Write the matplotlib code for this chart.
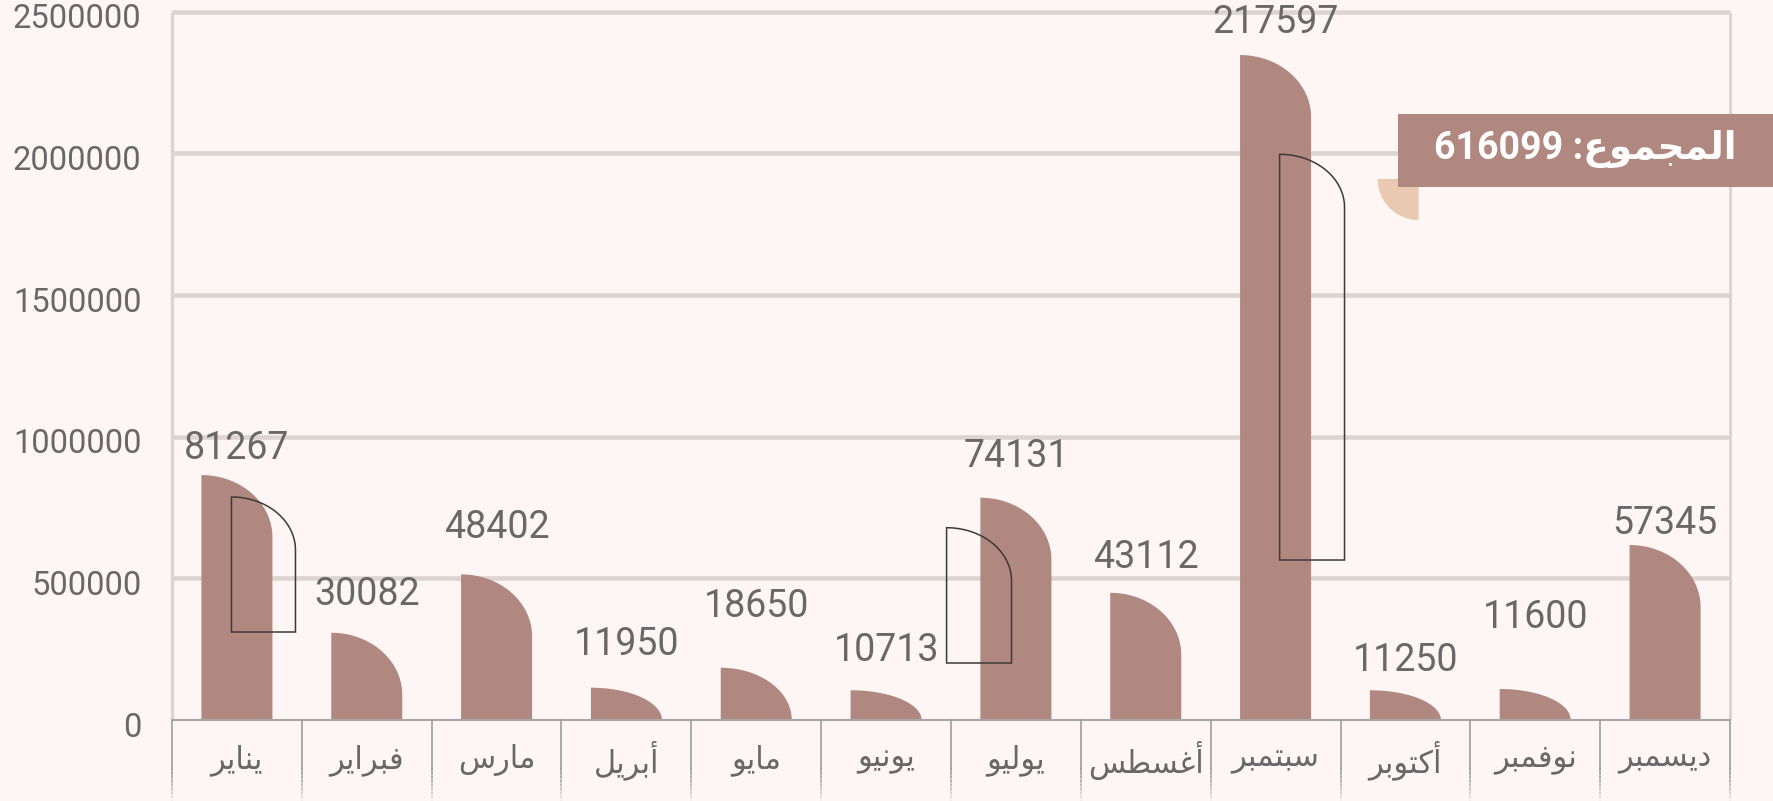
import numpy as np
import matplotlib.pyplot as plt
import matplotlib.transforms as mtransforms
from matplotlib.patches import Polygon, Rectangle, Wedge

plt.rcParams['font.family'] = ['Roboto', 'DejaVu Sans']

# البيانات
months = ["يناير", "فبراير", "مارس", "أبريل", "مايو", "يونيو",
          "يوليو", "أغسطس", "سبتمبر", "أكتوبر", "نوفمبر", "ديسمبر"]
bar_values = [864500, 308000, 514000, 114000, 184500, 105000,
              784500, 449000, 2347000, 105000, 109500, 617500]
label_values = [81267, 30082, 48402, 11950, 18650, 10713,
                74131, 43112, 217597, 11250, 11600, 57345]
y_ticks = [0, 500000, 1000000, 1500000, 2000000, 2500000]
total_label = "المجموع"

# styles
BG = '#FDF6F4'
BAR = '#B1887F'
BEIGE = '#E9CAB0'
GRID = '#DDD4D2'
TXT = '#686868'
BAR_W = 0.547
RY_PX = 62
label_gap_px = [16, 28, 36, 33, 51, 29, 31, 25, 22, 19, 61, 11]
# decorative outlines: (month index, left offset, width, bottom, top)
outlines = [(0, -0.042, 0.493, 310600, 787100),
            (6, -0.534, 0.50, 201200, 678700),
            (8, 0.031, 0.50, 564700, 1996700)]

# simple arabic shaping (presentation forms B)
FORMS = {
    'ا': ('\uFE8D', '\uFE8E', None, None),
    'أ': ('\uFE83', '\uFE84', None, None),
    'د': ('\uFEA9', '\uFEAA', None, None),
    'ر': ('\uFEAD', '\uFEAE', None, None),
    'و': ('\uFEED', '\uFEEE', None, None),
    'ب': ('\uFE8F', '\uFE90', '\uFE91', '\uFE92'),
    'ت': ('\uFE95', '\uFE96', '\uFE97', '\uFE98'),
    'ج': ('\uFE9D', '\uFE9E', '\uFE9F', '\uFEA0'),
    'س': ('\uFEB1', '\uFEB2', '\uFEB3', '\uFEB4'),
    'ط': ('\uFEC1', '\uFEC2', '\uFEC3', '\uFEC4'),
    'ع': ('\uFEC9', '\uFECA', '\uFECB', '\uFECC'),
    'غ': ('\uFECD', '\uFECE', '\uFECF', '\uFED0'),
    'ف': ('\uFED1', '\uFED2', '\uFED3', '\uFED4'),
    'ك': ('\uFED9', '\uFEDA', '\uFEDB', '\uFEDC'),
    'ل': ('\uFEDD', '\uFEDE', '\uFEDF', '\uFEE0'),
    'م': ('\uFEE1', '\uFEE2', '\uFEE3', '\uFEE4'),
    'ن': ('\uFEE5', '\uFEE6', '\uFEE7', '\uFEE8'),
    'ي': ('\uFEF1', '\uFEF2', '\uFEF3', '\uFEF4'),
}


def shape_ar(word):
    out = []
    for i, ch in enumerate(word):
        iso, fin, ini, med = FORMS[ch]
        joins_prev = i > 0 and FORMS[word[i - 1]][2] is not None
        joins_next = i < len(word) - 1 and ini is not None
        if joins_prev and joins_next:
            out.append(med)
        elif joins_prev:
            out.append(fin)
        elif joins_next:
            out.append(ini)
        else:
            out.append(iso)
    return ''.join(reversed(out))


def round_bar(x0, w, y0, y1, ry):
    # rectangle with elliptic top-right corner
    ry = min(ry, y1 - y0)
    t = np.linspace(0, np.pi / 2, 40)
    arc_x = x0 + w * np.cos(t)
    arc_y = (y1 - ry) + ry * np.sin(t)
    xs = np.concatenate([[x0, x0 + w], arc_x])
    ys = np.concatenate([[y0, y0], arc_y])
    return np.column_stack([xs, ys])


fig = plt.figure(figsize=(17.73, 8.01), dpi=100, facecolor=BG)
ax = fig.add_axes([172 / 1773, 1 - 720 / 801, (1730 - 172) / 1773, (720 - 11.7) / 801])
ax.set_facecolor(BG)
ax.set_xlim(-0.5, 11.5)
ax.set_ylim(0, 2500000)
for s in ax.spines.values():
    s.set_visible(False)
ax.set_xticks([])

ry_data = RY_PX * 2500000 / (720 - 11.7)

# grid and frame
ax.hlines(y_ticks[1:], -0.5, 11.5, color=GRID, lw=3.3, zorder=0, clip_on=False)
ax.vlines(-0.5, 0, 2500000, color=GRID, lw=2.5, zorder=0, clip_on=False)
ax.vlines(11.5, 0, 2500000, color=GRID, lw=2.2, zorder=0, clip_on=False)

# bars
for i, v in enumerate(bar_values):
    pts = round_bar(i - BAR_W / 2, BAR_W, 0, v, ry_data)
    ax.add_patch(Polygon(pts, closed=True, facecolor=BAR, edgecolor='none', zorder=2))
    ax.annotate(str(label_values[i]), xy=(i, v), xytext=(0, label_gap_px[i]),
                textcoords='offset pixels', ha='center', va='baseline',
                fontsize=27, color=TXT, zorder=5, annotation_clip=False)

# decorative outlines
for i, dx, w, b, t in outlines:
    pts = round_bar(i + dx, w, b, t, 53 * 2500000 / (720 - 11.7))
    ax.add_patch(Polygon(pts, closed=True, facecolor='none', edgecolor='#3a3a3a',
                         lw=1.1, zorder=4))

# x axis cells
ax.hlines(0, -0.5, 11.5, color='#a6a6a6', lw=1.5, zorder=3, clip_on=False)
xtr = ax.get_xaxis_transform()
bottom = -(801 - 720) / (720 - 11.7)
for b in np.arange(-0.5, 12, 1):
    ax.plot([b, b], [0, bottom * 0.6], transform=xtr, color='#9d9d9d', lw=1.2,
            clip_on=False, zorder=3)
    seg = np.linspace(bottom * 0.6, bottom, 9)
    for k in range(8):
        ax.plot([b, b], [seg[k], seg[k + 1]], transform=xtr, color='#9d9d9d',
                lw=1.2, alpha=1 - (k + 1) / 9, clip_on=False, zorder=3)
for i, m in enumerate(months):
    ax.text(i, -(760 - 720) / (720 - 11.7), shape_ar(m), transform=xtr,
            ha='center', va='center', fontsize=22, color=TXT, family='DejaVu Sans')

# y ticks
ax.set_yticks(y_ticks)
ax.set_yticklabels([str(t) for t in y_ticks])
ax.tick_params(axis='y', length=0, pad=22, labelsize=23.5, labelcolor=TXT)
off = mtransforms.ScaledTranslation(0, -3 / 72, fig.dpi_scale_trans)
for lab in ax.get_yticklabels():
    lab.set_transform(lab.get_transform() + off)

# total box
inch = fig.dpi_scale_trans
fig.patches.append(Wedge((14.186, (801 - 179) / 100), 0.41, 180, 270,
                         facecolor=BEIGE, edgecolor='none', transform=inch, figure=fig))
fig.patches.append(Rectangle((13.98, (801 - 186.7) / 100), 3.75, 0.727,
                             facecolor=BAR, edgecolor='none', transform=inch, figure=fig))
total = sum(label_values)
fig.text(15.855, (801 - 149) / 100, f"{total} :" + shape_ar(total_label),
         transform=inch, ha='center', va='center', fontsize=27, fontweight='bold',
         color='white')

fig.savefig('out.png', dpi=100, facecolor=BG)
